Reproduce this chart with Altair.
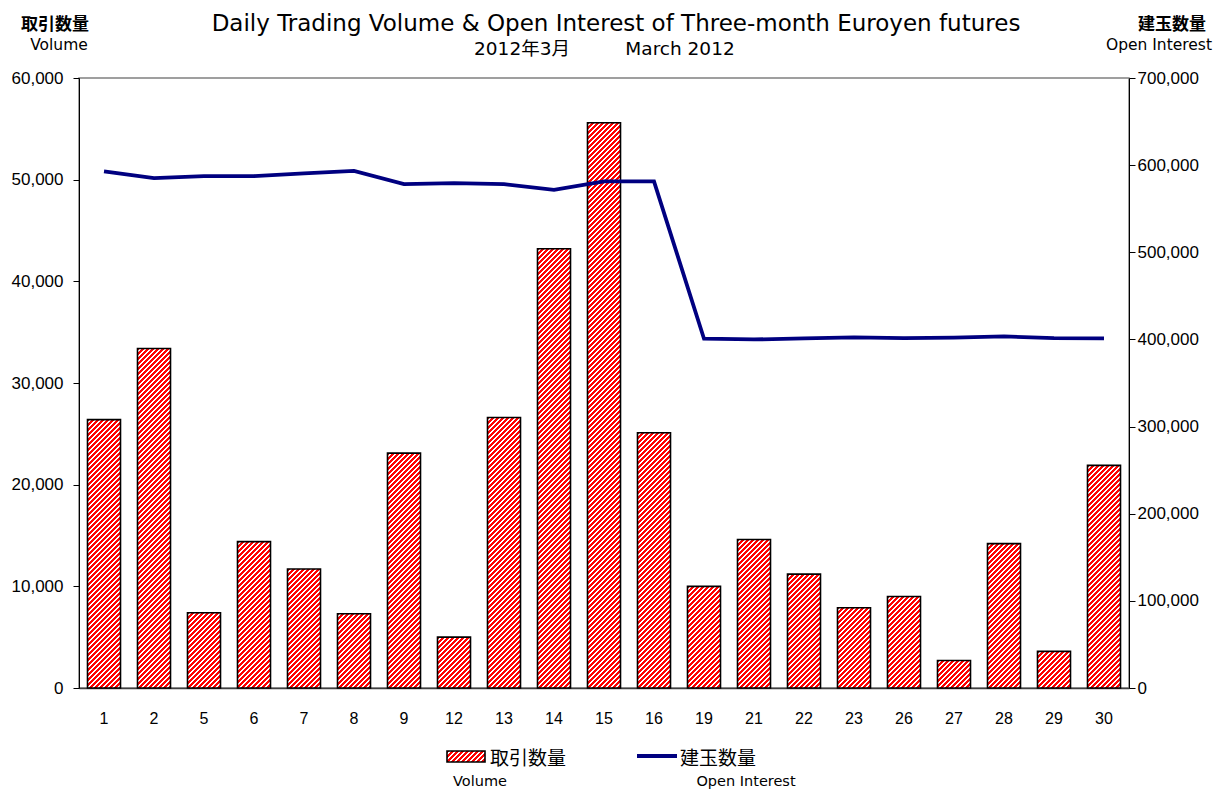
import altair as alt

# ---- data ----
days = ["1", "2", "5", "6", "7", "8", "9", "12", "13", "14", "15", "16",
        "19", "21", "22", "23", "26", "27", "28", "29", "30"]
volume = [26400, 33400, 7400, 14400, 11700, 7300, 23100, 5000, 26600, 43200, 55600,
          25100, 10000, 14600, 11200, 7900, 9000, 2700, 14200, 3600, 21900]
open_interest = [592800, 585100, 587400, 587400, 590500, 593400, 578200, 579300,
                 578200, 571600, 581300, 581300, 400800, 400000, 401100, 402300,
                 401500, 402000, 403400, 401500, 401100]

vol_ticks = [0, 10000, 20000, 30000, 40000, 50000, 60000]
oi_ticks = [0, 100000, 200000, 300000, 400000, 500000, 600000, 700000]

# ---- layout / style ----
W, H = 1050, 610
VOL_MAX, OI_MAX = 60000, 700000
PAD_INNER = 0.34
JP = "Noto Sans CJK JP"
EN = "DejaVu Sans, Noto Sans CJK JP"
AX = "Liberation Sans"
NAVY = "#000080"


def hatch(w, h, period=5.0, white=2.0):
    """Red fill with white '/' stripes, as a bbox-relative linear gradient."""
    s = w + h
    c = s / (w * w + h * h)
    stops = [{"offset": 0, "color": "#ff0000"}]
    pos = period / 2
    while pos < s:
        a = round(pos / s, 5)
        b = round(min((pos + white) / s, 1.0), 5)
        stops += [{"offset": a, "color": "#ff0000"}, {"offset": a, "color": "#ffffff"},
                  {"offset": b, "color": "#ffffff"}, {"offset": b, "color": "#ff0000"}]
        pos += period
    stops.append({"offset": 1, "color": "#ff0000"})
    return {"gradient": "linear", "x1": 0, "y1": 0,
            "x2": round(c * w, 6), "y2": round(c * h, 6), "stops": stops}


bar_w = W / len(days) * (1 - PAD_INNER)
rows = []
for d, v, oi in zip(days, volume, open_interest):
    rows.append({"day": d, "volume": v, "oi": oi,
                 "grad": hatch(bar_w, v / VOL_MAX * H)})
data = alt.Data(values=rows)

xenc = alt.X("day:O", sort=days, title=None,
             scale=alt.Scale(paddingInner=PAD_INNER, paddingOuter=PAD_INNER / 2),
             axis=alt.Axis(labelAngle=0, ticks=False, labelPadding=22, labelFont=AX,
                           labelFontSize=16, labelColor="black", domainColor="#404040",
                           domainWidth=1.5))

bars = alt.Chart(data).mark_bar(stroke="black", strokeWidth=1.6).encode(
    x=xenc,
    y=alt.Y("volume:Q", title=None,
            scale=alt.Scale(domain=[0, VOL_MAX], nice=False),
            axis=alt.Axis(orient="left", values=vol_ticks, format=",d", grid=False,
                          tickSize=6, tickColor="black", labelPadding=10, labelFont=AX,
                          labelFontSize=17, labelColor="black", domainColor="black")),
    fill=alt.Fill("grad:N", scale=None, legend=None),
)

line = alt.Chart(data).mark_line(color=NAVY, strokeWidth=3.8).encode(
    x=xenc,
    y=alt.Y("oi:Q", title=None,
            scale=alt.Scale(domain=[0, OI_MAX], nice=False),
            axis=alt.Axis(orient="right", values=oi_ticks, format=",d", grid=False,
                          tickSize=6, tickColor="black", labelPadding=2, labelFont=AX,
                          labelFontSize=17, labelColor="black", domainColor="black")),
)


def txt(text, x, y, size, font=EN, weight="normal", align="center"):
    return alt.Chart(alt.Data(values=[{}])).mark_text(
        text=text, font=font, fontSize=size, fontWeight=weight, align=align,
        baseline="middle", color="black",
    ).encode(x=alt.value(x), y=alt.value(y))


texts = [
    txt("Daily Trading Volume & Open Interest of Three-month Euroyen futures", 537, -54, 23),
    txt("2012年3月", 443, -29, 18.5),
    txt("March 2012", 601, -29, 18.5),
    txt("取引数量", -24, -53, 17, font=JP, weight="bold"),
    txt("Volume", -20, -33, 15.5),
    txt("建玉数量", 1093, -53, 17, font=JP, weight="bold"),
    txt("Open Interest", 1080, -33, 15.5),
    txt("取引数量", 411, 681, 19, font=JP, align="left"),
    txt("Volume", 401, 704, 14.5),
    txt("建玉数量", 601, 681, 19, font=JP, align="left"),
    txt("Open Interest", 667, 704, 14.5),
]

swatch = alt.Chart(alt.Data(values=[{}])).mark_rect(
    fill=hatch(38, 11), stroke="black", strokeWidth=1.6
).encode(x=alt.value(368), x2=alt.value(406), y=alt.value(673), y2=alt.value(684))

line_swatch = alt.Chart(alt.Data(values=[{}])).mark_rule(
    color=NAVY, strokeWidth=3.8
).encode(x=alt.value(558), x2=alt.value(598), y=alt.value(678))

chart = alt.layer(bars, line, swatch, line_swatch, *texts).resolve_scale(
    y="independent"
).properties(
    width=W, height=H,
    autosize=alt.AutoSizeParams(type="none"),
    padding={"left": 71, "top": 70, "right": 88, "bottom": 102},
    background="white",
).configure_view(stroke="#808080", strokeWidth=1.5)

chart.save("out.html", embed_options={"renderer": "svg", "actions": False})
